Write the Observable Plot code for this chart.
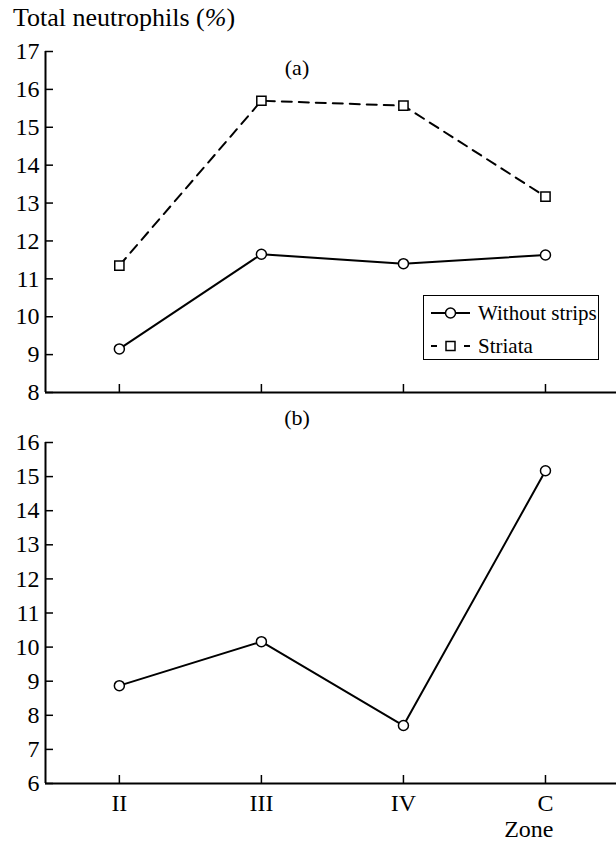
<!DOCTYPE html>
<html>
<head>
<meta charset="utf-8">
<script src="https://cdn.jsdelivr.net/npm/d3@7"></script>
<script src="https://cdn.jsdelivr.net/npm/@observablehq/plot@0.6"></script>
<style>
  html, body { margin: 0; padding: 0; background: #fff; }
  #wrap { position: relative; width: 616px; height: 848px; overflow: hidden; font-family: "Liberation Serif", "Times New Roman", serif; color: #000; }
  #title { position: absolute; left: 13px; top: 5px; font-size: 26px; line-height: 26px; white-space: nowrap; }
  #plotA, #plotB { position: absolute; left: 0; }
  #plotA { top: 0; }
  #plotB { top: 405px; }
  #legend { position: absolute; left: 423px; top: 295px; width: 174px; height: 63px; border: 1.5px solid #000; background: #fff; font-size: 21px; }
  .row { position: absolute; left: 0; height: 24px; display: flex; align-items: center; }
  .row svg { display: block; margin-left: 6px; }
  .row span { margin-left: 7px; }
</style>
</head>
<body>
<div id="wrap">
  <div id="plotA"></div>
  <div id="plotB"></div>
  <div id="title">Total neutrophils (<i>%</i>)</div>
  <div id="legend">
    <div class="row" style="top:5px">
      <svg width="41" height="14"><line x1="1" y1="7" x2="40" y2="7" stroke="#000" stroke-width="2"/><circle cx="20.5" cy="7" r="5" fill="#fff" stroke="#000" stroke-width="1.5"/></svg>
      <span>Without strips</span>
    </div>
    <div class="row" style="top:38px">
      <svg width="41" height="14"><line x1="1" y1="7" x2="7" y2="7" stroke="#000" stroke-width="2"/><line x1="34" y1="7" x2="40" y2="7" stroke="#000" stroke-width="2"/><rect x="16" y="2.5" width="9" height="9" fill="#fff" stroke="#000" stroke-width="1.5"/></svg>
      <span>Striata</span>
    </div>
  </div>
</div>
<script>
// ---- data ----
const zones = ["II", "III", "IV", "C"];
const withoutStripsA = [9.15, 11.65, 11.4, 11.63];
const striataA = [11.35, 15.7, 15.57, 13.17];
const withoutStripsB = [8.87, 10.16, 7.7, 15.17];
const yTicksA = [8, 9, 10, 11, 12, 13, 14, 15, 16, 17];
const yTicksB = [6, 7, 8, 9, 10, 11, 12, 13, 14, 15, 16];
const panelLabels = ["(a)", "(b)"];
const xAxisLabel = "Zone";

// ---- tables ----
const rows = (vals) => zones.map((z, i) => ({ i, zone: z, v: vals[i] }));
const dataWA = rows(withoutStripsA);
const dataSA = rows(striataA);
const dataWB = rows(withoutStripsB);
const xIdx = zones.map((z, i) => i);
const xDomain = [-0.52, 3.5];

const font = "Liberation Serif";
const style = { fontFamily: font, fontSize: "24px", background: "transparent", overflow: "visible", color: "#000" };

function panel({ data, yTicks, height, marginTop, marginBottom, label, labelDy, showXLabels }) {
  const yDom = [yTicks[0], yTicks[yTicks.length - 1]];
  const marks = [
    Plot.axisY({ ticks: yTicks, label: null, tickSize: -8, tickPadding: 14, tickFormat: d => String(d), fontSize: 24, strokeWidth: 1.5 }),
    Plot.axisX({ ticks: xIdx, label: null, tickSize: -8, tickPadding: 18, tickFormat: showXLabels ? (i => zones[i]) : (() => ""), fontSize: 24, strokeWidth: 1.5 }),
    Plot.ruleX([xDomain[0]], { y1: yDom[0], y2: yDom[1], strokeWidth: 2 }),
    Plot.ruleY([yDom[0]], { strokeWidth: 2 }),
    Plot.text([label], { frameAnchor: "top", lineAnchor: "middle", dx: -34, dy: labelDy, fontSize: 22, fontFamily: font, text: d => d })
  ];
  for (const s of data) {
    marks.push(Plot.line(s.rows, { x: "i", y: "v", stroke: "#000", strokeWidth: 2, strokeDasharray: s.dash || null }));
    marks.push(Plot.dot(s.rows, { x: "i", y: "v", symbol: s.symbol, r: s.symbol === "square" ? 5.2 : 5, fill: "#fff", stroke: "#000", strokeWidth: 1.5 }));
  }
  if (showXLabels) {
    marks.push(Plot.text([xAxisLabel], { frameAnchor: "bottom-right", lineAnchor: "middle", dx: -63, dy: 46, textAnchor: "end", fontSize: 24, fontFamily: font, text: d => d }));
  }
  return Plot.plot({
    width: 616,
    height,
    marginLeft: 45,
    marginRight: 0,
    marginTop,
    marginBottom,
    style,
    x: { type: "linear", domain: xDomain, axis: null },
    y: { domain: yDom, axis: null },
    symbol: { type: "identity" },
    marks
  });
}

document.getElementById("plotA").appendChild(panel({
  data: [
    { rows: dataSA, symbol: "square", dash: "10,7" },
    { rows: dataWA, symbol: "circle" }
  ],
  yTicks: yTicksA, height: 405, marginTop: 51, marginBottom: 13,
  label: panelLabels[0], labelDy: 16, showXLabels: false
}));

document.getElementById("plotB").appendChild(panel({
  data: [{ rows: dataWB, symbol: "circle" }],
  yTicks: yTicksB, height: 443, marginTop: 37, marginBottom: 65,
  label: panelLabels[1], labelDy: -25, showXLabels: true
}));
</script>
</body>
</html>
